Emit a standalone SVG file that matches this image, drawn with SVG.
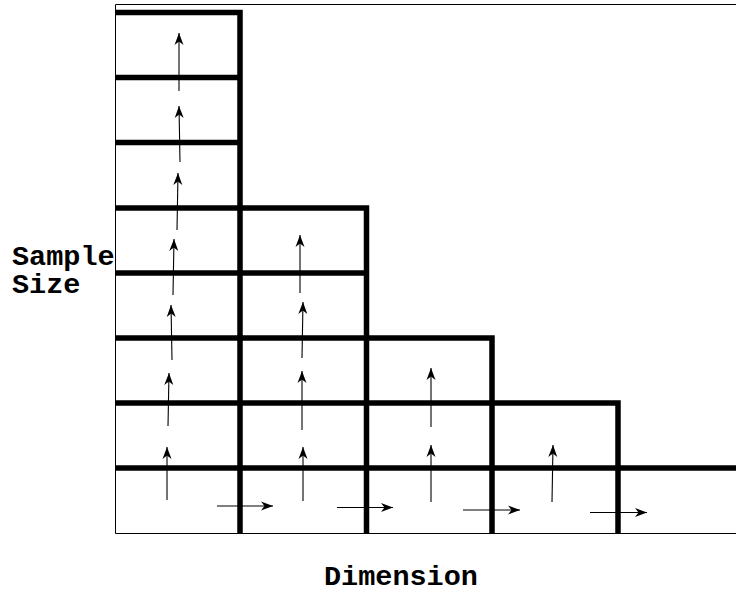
<svg xmlns="http://www.w3.org/2000/svg" width="736" height="593" viewBox="0 0 736 593">
<style>
.frame{fill:none;stroke:#000;stroke-width:1}
.thick{fill:none;stroke:#000;stroke-width:5.5;stroke-linejoin:miter;stroke-linecap:butt}
.arr{fill:none;stroke:#000;stroke-width:1.1;marker-end:url(#ah)}
.lbl{font-family:"Liberation Mono","Courier New",monospace;font-weight:bold;font-size:28.5px;fill:#000}
</style>
<defs>
<marker id="ah" markerUnits="userSpaceOnUse" orient="auto" markerWidth="16" markerHeight="12" refX="13" refY="5" viewBox="0 0 16 12" overflow="visible">
<path d="M13,5 L1,0.5 L4.5,5 L1,9.5 Z" fill="#000"/>
</marker>
</defs>
<rect width="736" height="593" fill="#fff"/>
<g id="frame">
<path class="frame" d="M736,4.5 H115.5 V533.5 H736"/>
</g>
<g id="grid">
<path class="thick" d="M115,12.5 H240 V533"/>
<path class="thick" d="M115,77.5 H240"/>
<path class="thick" d="M115,142.5 H240"/>
<path class="thick" d="M115,208 H366.5 V533"/>
<path class="thick" d="M115,273 H366.5"/>
<path class="thick" d="M115,338 H492 V533"/>
<path class="thick" d="M115,403 H618 V533"/>
<path class="thick" d="M115,468 H736"/>
</g>
<g id="connectors">
<line class="arr" x1="179" y1="91" x2="179" y2="33"/>
<line class="arr" x1="180" y1="162" x2="179" y2="106"/>
<line class="arr" x1="177" y1="230" x2="178" y2="173"/>
<line class="arr" x1="173" y1="295" x2="174" y2="239"/>
<line class="arr" x1="172" y1="360" x2="171" y2="305"/>
<line class="arr" x1="168" y1="426" x2="169" y2="373"/>
<line class="arr" x1="167" y1="500" x2="167" y2="447"/>
<line class="arr" x1="300" y1="293" x2="300" y2="235"/>
<line class="arr" x1="302" y1="358" x2="303" y2="302"/>
<line class="arr" x1="302" y1="430" x2="302" y2="371"/>
<line class="arr" x1="303" y1="501" x2="303" y2="447"/>
<line class="arr" x1="431" y1="427" x2="431" y2="368"/>
<line class="arr" x1="431" y1="502" x2="431" y2="445"/>
<line class="arr" x1="552" y1="502" x2="553" y2="445"/>
<line class="arr" x1="217" y1="506" x2="273" y2="506"/>
<line class="arr" x1="337" y1="507.5" x2="393" y2="507.5"/>
<line class="arr" x1="463" y1="510" x2="520" y2="510"/>
<line class="arr" x1="590" y1="512.5" x2="647" y2="512.5"/>
</g>
<g id="labels">
<text class="lbl" x="12" y="265">Sample</text>
<text class="lbl" x="12" y="293">Size</text>
<text class="lbl" x="324" y="585">Dimension</text>
</g>
</svg>
